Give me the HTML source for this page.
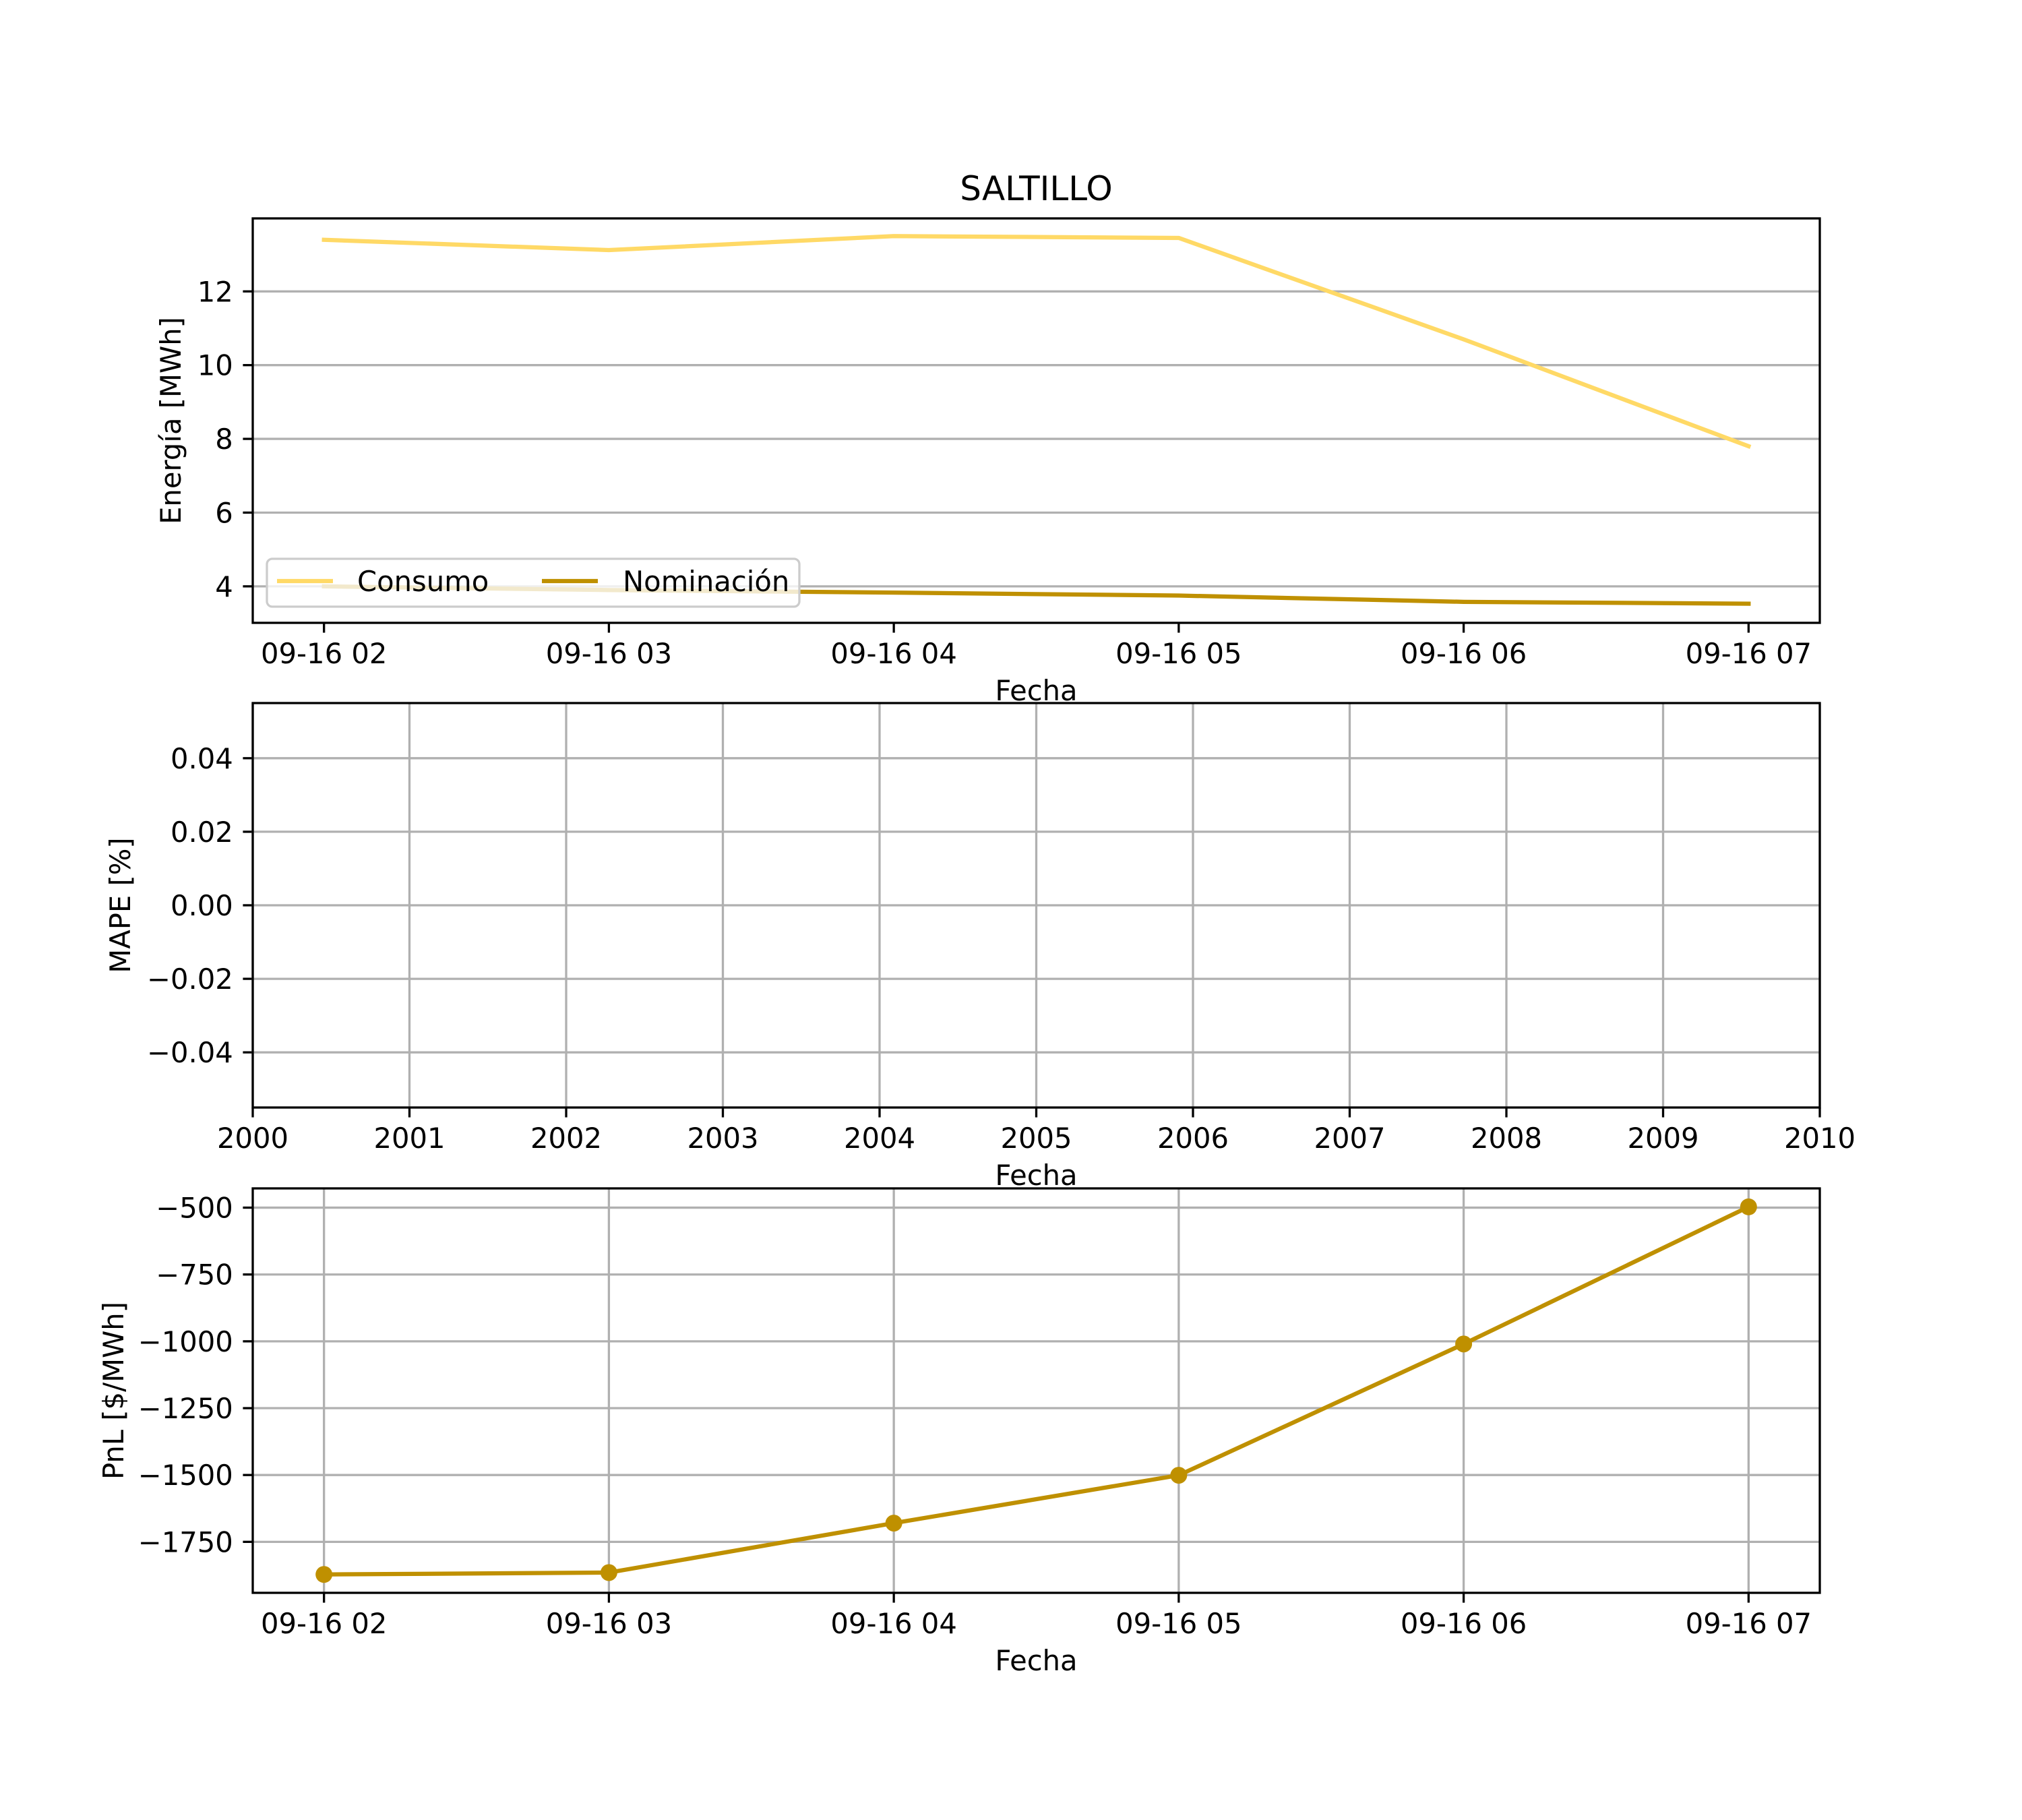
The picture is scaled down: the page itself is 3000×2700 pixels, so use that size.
<!DOCTYPE html>
<html><head><meta charset="utf-8"><style>
html,body{margin:0;padding:0;background:#fff;}
svg{display:block;font-family:"DejaVu Sans","Liberation Sans",sans-serif;}
</style></head><body>
<svg id="fig" width="3000" height="2700" viewBox="0 0 3000 2700" xmlns="http://www.w3.org/2000/svg">
<rect width="3000" height="2700" fill="#fff"/>
<g id="root"></g>
</svg>
<script>
const hours = ["09-16 02","09-16 03","09-16 04","09-16 05","09-16 06","09-16 07"];
const consumo = [13.40, 13.12, 13.50, 13.45, 10.70, 7.80];
const nominacion = [4.00, 3.90, 3.83, 3.75, 3.58, 3.53];
const pnl = [-1872, -1865, -1680, -1501, -1010, -497];
const energyTicks = [4, 6, 8, 10, 12];
const mapeTicks = [-0.04, -0.02, 0.00, 0.02, 0.04];
const mapeTickLabels = ["\u22120.04","\u22120.02","0.00","0.02","0.04"];
const yearTicks = [2000,2001,2002,2003,2004,2005,2006,2007,2008,2009,2010];
const pnlTicks = [-1750,-1500,-1250,-1000,-750,-500];

const NS="http://www.w3.org/2000/svg";
const root=document.getElementById('root');
function el(tag,attrs,parent,text){const e=document.createElementNS(NS,tag);for(const k in attrs)e.setAttribute(k,attrs[k]);if(text!==undefined)e.textContent=text;(parent||root).appendChild(e);return e;}
const L=375,R=2700,FS=41.7,TL=14.6;
function fmtNeg(v){return v<0?"\u2212"+Math.abs(v):String(v);}

function makeAxes(name,top,bot,xmin,xmax,ymin,ymax){
  const g=el('g',{});
  
  
  const sx=v=>L+(v-xmin)/(xmax-xmin)*(R-L);
  const sy=v=>bot-(v-ymin)/(ymax-ymin)*(bot-top);
  return {g,sx,sy,top,bot};
}
function frame(ax){
  const r=el('rect',{x:L,y:ax.top,width:R-L,height:ax.bot-ax.top,fill:'none',stroke:'#000','stroke-width':3.3},ax.g);
  
  
}
function yticks(ax,vals,labels,grid){
  vals.forEach((v,i)=>{
    const y=ax.sy(v);
    if(grid){const gl=el('line',{x1:L,x2:R,y1:y,y2:y,stroke:'#b0b0b0','stroke-width':3.3},ax.g);}
    el('line',{x1:L-TL,x2:L,y1:y,y2:y,stroke:'#000','stroke-width':3.3},ax.g);
    const t=el('text',{x:L-TL-14.6,y:y+15,'text-anchor':'end','font-size':FS},ax.g,labels[i]);
    
    
  });
}
function xticks(ax,vals,labels,grid){
  vals.forEach((v,i)=>{
    const x=ax.sx(v);
    if(grid){const gl=el('line',{x1:x,x2:x,y1:ax.top,y2:ax.bot,stroke:'#b0b0b0','stroke-width':3.3},ax.g);}
    el('line',{x1:x,x2:x,y1:ax.bot,y2:ax.bot+TL,stroke:'#000','stroke-width':3.3},ax.g);
    const t=el('text',{x:x,y:ax.bot+TL+14.6+31,'text-anchor':'middle','font-size':FS},ax.g,labels[i]);
    
    
  });
}
function labels(ax,xl,yl,ylx){
  const t=el('text',{x:(L+R)/2,y:ax.bot+115,'text-anchor':'middle','font-size':FS},ax.g,xl);
  
  
  const cy=(ax.top+ax.bot)/2;
  const u=el('text',{x:ylx,y:cy,'text-anchor':'middle','font-size':FS,transform:`rotate(-90 ${ylx} ${cy}) translate(0 15)`},ax.g,yl);
  
  
}
function line(ax,xs,ys,color,name){
  const p=el('polyline',{points:xs.map((x,i)=>ax.sx(x)+','+ax.sy(ys[i])).join(' '),fill:'none',stroke:color,'stroke-width':6.25,'stroke-linejoin':'round','stroke-linecap':'square'},ax.g);
  
  
}
const idx=hours.map((h,i)=>i);

// Axes 1
const a1=makeAxes('energy-axes',324,924,-0.25,5.25,3.01,13.98);
yticks(a1,energyTicks,energyTicks.map(String),true);
xticks(a1,idx,hours,false);
line(a1,idx,consumo,'#ffd966','consumo-line');
line(a1,idx,nominacion,'#bf9000','nominacion-line');
frame(a1);
labels(a1,'Fecha','Energía [MWh]',253);
const title=el('text',{x:(L+R)/2,y:297,'text-anchor':'middle','font-size':50},a1.g,'SALTILLO');


// legend
const lg=el('g',{},a1.g);


el('rect',{x:396,y:829,width:790,height:71,rx:8,fill:'#fff','fill-opacity':0.8,stroke:'#cccccc','stroke-width':3.3},lg);
el('line',{x1:411,x2:494,y1:862,y2:862,stroke:'#ffd966','stroke-width':6.25},lg);
const lt1=el('text',{x:530,y:877,'font-size':FS},lg,'Consumo');


el('line',{x1:804,x2:887,y1:862,y2:862,stroke:'#bf9000','stroke-width':6.25},lg);
const lt2=el('text',{x:924,y:877,'font-size':FS},lg,'Nominación');



// Axes 2
const a2=makeAxes('mape-axes',1043,1643,2000,2010,-0.055,0.055);
yticks(a2,mapeTicks,mapeTickLabels,true);
xticks(a2,yearTicks,yearTicks.map(String),true);
frame(a2);
labels(a2,'Fecha','MAPE [%]',178);

// Axes 3
const a3=makeAxes('pnl-axes',1763,2363,-0.25,5.25,-1940.75,-428);
yticks(a3,pnlTicks,pnlTicks.map(fmtNeg),true);
xticks(a3,idx,hours,true);
line(a3,idx,pnl,'#bf9000','pnl-line');
pnl.forEach((v,i)=>{
  const c=el('circle',{cx:a3.sx(i),cy:a3.sy(v),r:12.5,fill:'#bf9000'},a3.g);
  
  
});
frame(a3);
labels(a3,'Fecha','PnL [$/MWh]',168);
</script>
</body></html>
